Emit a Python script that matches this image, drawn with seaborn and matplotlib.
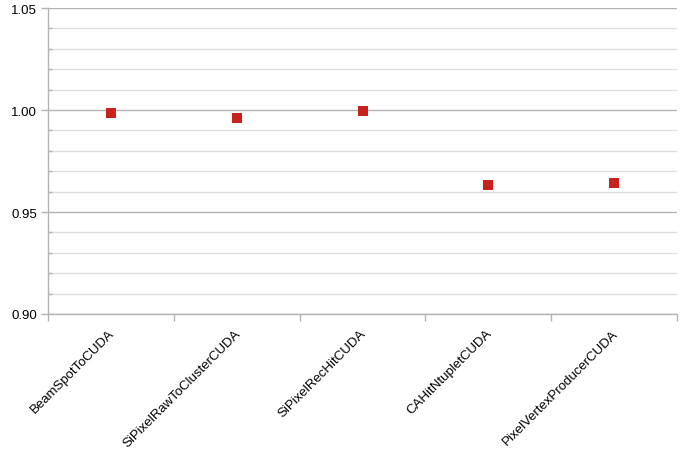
import matplotlib
matplotlib.use("Agg")
import matplotlib.pyplot as plt
from matplotlib.ticker import MultipleLocator, FixedLocator
import matplotlib.transforms as mtransforms
import seaborn as sns
import pandas as pd

categories = ["BeamSpotToCUDA", "SiPixelRawToClusterCUDA", "SiPixelRecHitCUDA",
              "CAHitNtupletCUDA", "PixelVertexProducerCUDA"]
values = [0.9987, 0.9962, 0.9994, 0.9632, 0.9641]
y_ticks = [0.90, 0.95, 1.00, 1.05]

df = pd.DataFrame({"module": categories, "ratio": values})

sns.set_theme(style="white")
plt.rcParams['font.family'] = ['Liberation Sans', 'DejaVu Sans']

fig = plt.figure(figsize=(6.89, 4.64), dpi=100)
ax = fig.add_axes([48/689, 1-315/464, (677-48)/689, (315-9)/464])

sns.scatterplot(data=df, x="module", y="ratio", ax=ax, marker="s", s=55,
                color="#c9211e", edgecolor="#c9211e", linewidth=0, zorder=3)

ax.set_xlim(-0.5, len(categories) - 0.5)
ax.set_ylim(0.90, 1.05)
ax.set_xlabel("")
ax.set_ylabel("")

ax.yaxis.set_major_locator(FixedLocator(y_ticks))
ax.set_yticklabels([f"{v:.2f}" for v in y_ticks])
ax.yaxis.set_minor_locator(MultipleLocator(0.01))
ax.grid(which="major", axis="y", color="#b3b3b3", linewidth=1)
ax.grid(which="minor", axis="y", color="#dddddd", linewidth=1)
ax.grid(which="major", axis="x", visible=False)
ax.set_axisbelow(True)

ax.set_xticks(range(len(categories)))
ax.set_xticklabels(categories, rotation=45, ha="right", va="top")
ax.xaxis.set_minor_locator(FixedLocator([i - 0.5 for i in range(len(categories) + 1)]))
ax.tick_params(axis="x", which="major", length=0, pad=7, labelsize=9.5, labelcolor="black")
ax.tick_params(axis="x", which="minor", length=5, width=1, color="#b3b3b3", bottom=True, direction="out")
ax.tick_params(axis="y", which="major", length=5, width=1, color="#b3b3b3", left=True, direction="out",
               labelsize=9.5, labelcolor="black", pad=3)
ax.tick_params(axis="y", which="minor", length=3, width=1, color="#b3b3b3", left=True, direction="in")

offset = mtransforms.ScaledTranslation(6/100, -3/100, fig.dpi_scale_trans)
for lbl in ax.get_xticklabels():
    lbl.set_transform(lbl.get_transform() + offset)

for side in ["top", "right"]:
    ax.spines[side].set_visible(False)
for side in ["left", "bottom"]:
    ax.spines[side].set_color("#b3b3b3")
    ax.spines[side].set_linewidth(1)

fig.savefig("out.png", dpi=100)
